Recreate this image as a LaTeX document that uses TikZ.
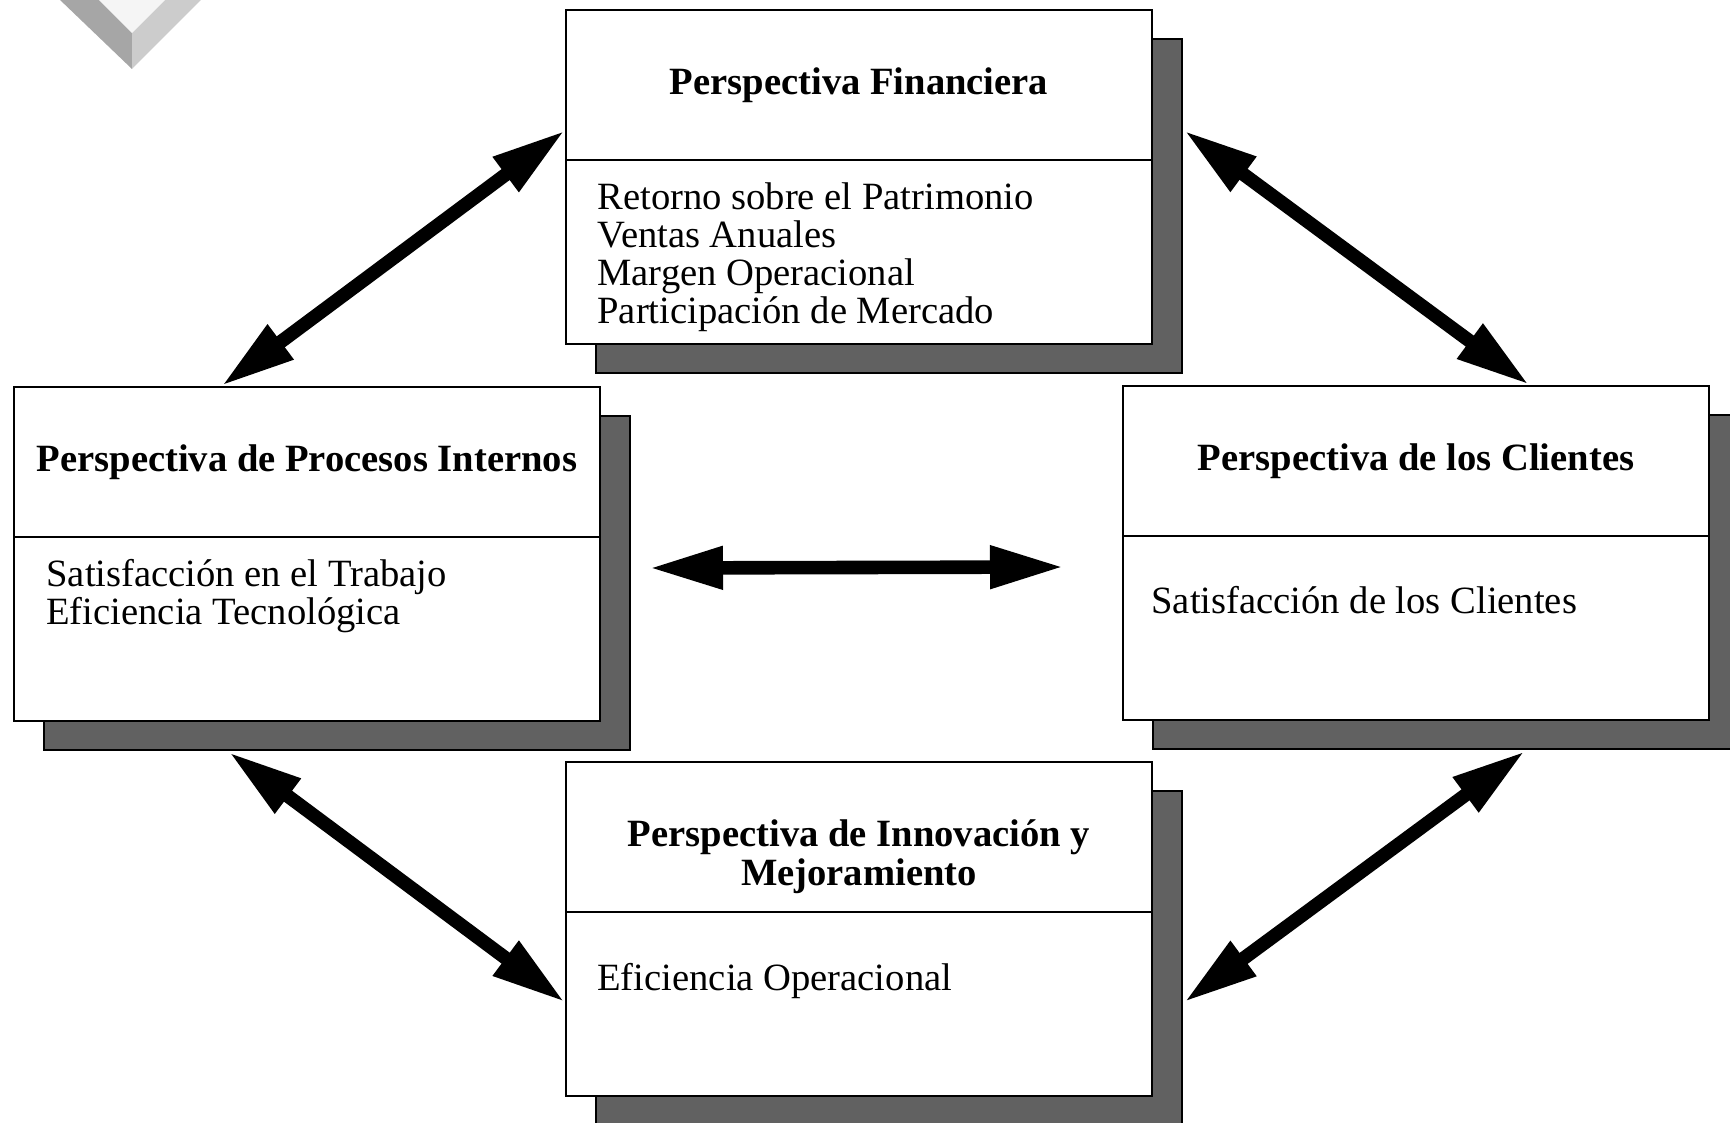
\documentclass[tikz,border=0pt]{standalone}
\usepackage{fontspec}
\setmainfont{Liberation Serif}
\usetikzlibrary{positioning,arrows.meta,shadows}
\definecolor{shadowgray}{gray}{0.38}

\begin{document}
\begin{tikzpicture}[x=0.5pt, y=-0.5pt,
    persp/.style={draw, line width=1pt, fill=white, anchor=north west,
        minimum width=293pt, minimum height=167pt, inner sep=0pt,
        drop shadow={shadow xshift=15pt, shadow yshift=-14.5pt,
            fill=shadowgray, draw=black, line width=1pt, opacity=1}},
    titulo/.style={font=\fontsize{19.3}{19.5}\selectfont\bfseries,
        align=center, inner sep=0pt},
    indicador/.style={font=\fontsize{19.3}{19}\selectfont,
        align=left, inner sep=0pt},
    divisor/.style={line width=1pt},
    doble/.style={line width=6.8pt,
        {Triangle[length=37pt,width=20pt]}-{Triangle[length=37pt,width=20pt]}}]
    \useasboundingbox (0,0) rectangle (1730,1123);

    % rombo de la esquina
    \fill[gray!70] (34,-25) -- (132,69) -- (132,33) -- (74,-25) -- cycle;
    \fill[gray!40] (132,69) -- (226,-25) -- (190,-25) -- (132,33) -- cycle;
    \fill[gray!8] (74,-25) -- (132,33) -- (190,-25) -- cycle;

    % perspectivas
    \node[persp] (fin) at (565,9) {};
    \node[persp] (proc) at (13,386) {};
    \node[persp] (cli) at (1122,385) {};
    \node[persp] (innov) at (565,761) {};
    \foreach \b in {fin,proc,cli,innov}
        \draw[divisor] ([yshift=-75.5pt]\b.north west) -- ([yshift=-75.5pt]\b.north east);

    \node[titulo, below=29pt of fin.north] (finT) {Perspectiva Financiera};
    \node[titulo, below=29pt of proc.north] (procT) {Perspectiva de Procesos Internos};
    \node[titulo, below=29pt of cli.north] (cliT) {Perspectiva de los Clientes};
    \node[titulo, below=29pt of innov.north] (innovT) {Perspectiva de Innovación y\\Mejoramiento};

    \node[indicador, below right=86.5pt and 16pt of fin.north west] (finI)
        {Retorno sobre el Patrimonio\\Ventas Anuales\\Margen Operacional\\Participación de Mercado};
    \node[indicador, below right=86.5pt and 16.5pt of proc.north west] (procI)
        {Satisfacción en el Trabajo\\Eficiencia Tecnológica};
    \node[indicador, below right=100.5pt and 14.5pt of cli.north west] (cliI)
        {Satisfacción de los Clientes};
    \node[indicador, below right=101pt and 16pt of innov.north west] (innovI)
        {Eficiencia Operacional};

    % flechas dobles
    \draw[doble] (proc.117) -- (fin.171);
    \draw[doble] ([xshift=15.5pt]fin.9) -- (cli.56);
    \draw[doble] ([xshift=24pt,yshift=-7pt]proc.east) -- ([xshift=-29pt,yshift=-7pt]cli.west);
    \draw[doble] ([yshift=-15pt]proc.-115) -- (innov.194);
    \draw[doble] ([yshift=-15pt]cli.-57) -- ([xshift=15.5pt]innov.-14);
\end{tikzpicture}
\end{document}
